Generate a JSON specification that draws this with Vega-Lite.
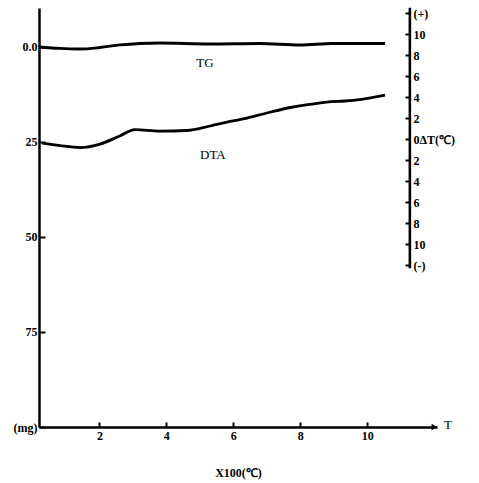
{
  "$schema": "https://vega.github.io/schema/vega-lite/v6.json",
  "width": 398,
  "height": 419,
  "autosize": {"type": "none"},
  "padding": {"left": 39, "top": 8, "right": 42, "bottom": 56},
  "background": "white",
  "config": {
    "view": {"stroke": null},
    "font": "Liberation Serif",
    "axis": {
      "labelFont": "Liberation Serif",
      "labelColor": "black",
      "labelFontSize": 12,
      "labelFontWeight": "bold",
      "labelOverlap": false,
      "domainColor": "black",
      "domainWidth": 2.5,
      "tickColor": "black",
      "tickWidth": 2,
      "titleFont": "Liberation Serif",
      "titleColor": "black",
      "titleFontWeight": "bold",
      "titleFontSize": 12,
      "grid": false
    }
  },
  "datasets": {
    "tg": [
      {"T": 0.2, "mg": 0},
      {"T": 0.82, "mg": 0.39},
      {"T": 1.42, "mg": 0.53},
      {"T": 2.02, "mg": 0.13},
      {"T": 2.61, "mg": -0.53},
      {"T": 3.21, "mg": -0.92},
      {"T": 3.81, "mg": -1.05},
      {"T": 5.3, "mg": -0.79},
      {"T": 6.79, "mg": -0.92},
      {"T": 7.99, "mg": -0.53},
      {"T": 8.97, "mg": -0.92},
      {"T": 10.53, "mg": -0.92}
    ],
    "dta": [
      {"T": 0.29, "dT": -0.38},
      {"T": 0.82, "dT": -0.62},
      {"T": 1.42, "dT": -0.81},
      {"T": 2.02, "dT": -0.48},
      {"T": 2.61, "dT": 0.29},
      {"T": 3.06, "dT": 0.9},
      {"T": 3.81, "dT": 0.76},
      {"T": 4.61, "dT": 0.81},
      {"T": 5.3, "dT": 1.24},
      {"T": 5.9, "dT": 1.67},
      {"T": 6.41, "dT": 2.0},
      {"T": 7.0, "dT": 2.48},
      {"T": 7.78, "dT": 3.05},
      {"T": 8.29, "dT": 3.29},
      {"T": 8.79, "dT": 3.52},
      {"T": 9.33, "dT": 3.62},
      {"T": 9.78, "dT": 3.76},
      {"T": 10.53, "dT": 4.19}
    ]
  },
  "layer": [
    {
      "layer": [
        {
          "data": {"name": "tg"},
          "mark": {"type": "line", "color": "black", "strokeWidth": 2.8, "interpolate": "monotone"},
          "encoding": {
            "x": {
              "field": "T",
              "type": "quantitative",
              "scale": {"domain": [0.197, 12.08], "nice": false, "zero": false},
              "axis": {
                "values": [2, 4, 6, 8, 10],
                "tickCount": 20,
                "format": "d",
                "tickSize": -5,
                "labelPadding": 8,
                "title": "X100(℃)",
                "titlePadding": 26
              }
            },
            "y": {
              "field": "mg",
              "type": "quantitative",
              "scale": {"domain": [-10.26, 100], "reverse": true, "nice": false, "zero": false},
              "axis": {
                "values": [0, 25, 50, 75, 100],
                "tickCount": 20,
                "format": "d",
                "tickSize": -6,
                "labelPadding": 8,
                "title": null,
                "labelExpr": "datum.value == 0 ? '0.0' : datum.value == 100 ? '(mg)' : datum.label"
              }
            }
          }
        },
        {
          "data": {"values": [{"T": 5.15, "mg": 4.2, "label": "TG"}, {"T": 12.41, "mg": 99.5, "label": "T"}]},
          "mark": {"type": "text", "font": "Liberation Serif", "fontSize": 13, "color": "black", "align": "center", "baseline": "middle"},
          "encoding": {
            "x": {"field": "T", "type": "quantitative"},
            "y": {"field": "mg", "type": "quantitative"},
            "text": {"field": "label"}
          }
        },
        {
          "data": {"values": [{"T": 12.0, "mg": 100}]},
          "mark": {"type": "point", "shape": "triangle-right", "filled": true, "color": "black", "size": 40, "opacity": 1},
          "encoding": {
            "x": {"field": "T", "type": "quantitative"},
            "y": {"field": "mg", "type": "quantitative"}
          }
        }
      ]
    },
    {
      "layer": [
        {
          "data": {"name": "dta"},
          "mark": {"type": "line", "color": "black", "strokeWidth": 2.8, "interpolate": "monotone"},
          "encoding": {
            "x": {"field": "T", "type": "quantitative"},
            "y": {
              "field": "dT",
              "type": "quantitative",
              "scale": {"domain": [-27.43, 12.48], "nice": false, "zero": false},
              "axis": {
                "orient": "right",
                "offset": -27,
                "domain": false,
                "values": [12, 10, 8, 6, 4, 2, 0, -2, -4, -6, -8, -10, -12],
                "tickCount": 30,
                "tickSize": -5,
                "labelPadding": 8,
                "labelBound": false,
                "title": null,
                "labelExpr": "datum.value == 12 ? '(+)' : datum.value == -12 ? '(-)' : datum.value == 0 ? '0ΔT(℃)' : '' + abs(datum.value)"
              }
            }
          }
        },
        {
          "data": {"values": [{"T": 5.39, "dT": -1.52, "label": "DTA"}]},
          "mark": {"type": "text", "font": "Liberation Serif", "fontSize": 13, "color": "black", "align": "center", "baseline": "middle"},
          "encoding": {
            "x": {"field": "T", "type": "quantitative"},
            "y": {"field": "dT", "type": "quantitative"},
            "text": {"field": "label"}
          }
        },
        {
          "data": {"values": [{}]},
          "mark": {"type": "rule", "color": "black", "strokeWidth": 2.6},
          "encoding": {
            "x": {"datum": 11.27, "type": "quantitative"},
            "y": {"datum": 12.5, "type": "quantitative"},
            "y2": {"datum": -12.3}
          }
        }
      ]
    }
  ],
  "resolve": {"scale": {"y": "independent"}}
}
